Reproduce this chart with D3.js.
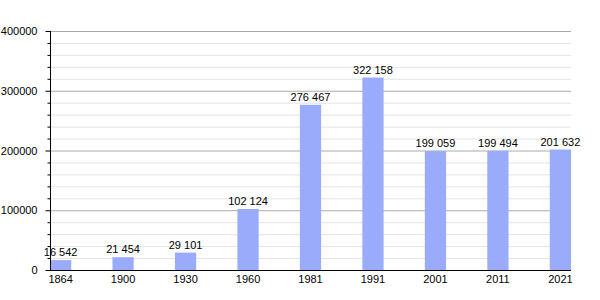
<!DOCTYPE html>
<html>
<head>
<meta charset="utf-8">
<script src="https://cdn.jsdelivr.net/npm/d3@7"></script>
<style>
  body { margin: 0; background: #fff; }
  svg { font-family: "Liberation Sans", Arial, sans-serif; }
</style>
</head>
<body>
<div id="chart"></div>
<script>
const years = ["1864", "1900", "1930", "1960", "1981", "1991", "2001", "2011", "2021"];
const population = [16542, 21454, 29101, 102124, 276467, 322158, 199059, 199494, 201632];
const yMajorTicks = [0, 100000, 200000, 300000, 400000];

(function() {
const width = 600, height = 300;
const plotLeft = 50, plotRight = 571, plotTop = 31, plotBottom = 270;

const svg = d3.select("#chart").append("svg")
    .attr("width", width)
    .attr("height", height);

const x = d3.scaleBand()
    .domain(years)
    .range([plotLeft, plotRight])
    .paddingInner(0.66)
    .paddingOuter(0);

const y = d3.scaleLinear()
    .domain([0, 400000])
    .range([plotBottom, plotTop]);

const minorTicks = d3.range(0, 400001, 20000);
const fmt = v => d3.format(",")(v).replace(/,/g, " ");

// grid lines
svg.append("g")
    .selectAll("line")
    .data(minorTicks.filter(d => d % 100000 !== 0))
    .join("line")
    .attr("x1", plotLeft).attr("x2", plotRight)
    .attr("y1", d => y(d) + 0.5).attr("y2", d => y(d) + 0.5)
    .attr("stroke", "#e4e4e4");

svg.append("g")
    .selectAll("line")
    .data(yMajorTicks.filter(d => d > 0))
    .join("line")
    .attr("x1", plotLeft).attr("x2", plotRight)
    .attr("y1", d => y(d) + 0.5).attr("y2", d => y(d) + 0.5)
    .attr("stroke", "#aaaaaa");

// bars
svg.append("g")
    .selectAll("rect")
    .data(population)
    .join("rect")
    .attr("x", (d, i) => x(years[i]))
    .attr("width", x.bandwidth())
    .attr("y", d => y(d))
    .attr("height", d => y(0) - y(d))
    .attr("fill", "#9aabfb");

// value labels
svg.append("g")
    .selectAll("text")
    .data(population)
    .join("text")
    .attr("x", (d, i) => x(years[i]) + x.bandwidth() / 2)
    .attr("y", d => y(d) - 4)
    .attr("text-anchor", "middle")
    .attr("font-size", 11)
    .text(d => fmt(d));

// y axis
const yAxis = svg.append("g")
    .attr("transform", `translate(${plotLeft + 0.5},0)`)
    .call(d3.axisLeft(y).tickValues(yMajorTicks).tickSize(5).tickPadding(8).tickFormat(d3.format("d")));
yAxis.selectAll("text").attr("font-size", 11).attr("fill", "#000").attr("font-family", "Liberation Sans, Arial, sans-serif");
yAxis.select(".domain").remove();

svg.append("g")
    .attr("transform", `translate(${plotLeft + 0.5},0)`)
    .call(d3.axisLeft(y).tickValues(minorTicks.filter(d => d % 100000 !== 0)).tickSize(3).tickFormat(""))
    .select(".domain").remove();

svg.append("line")
    .attr("x1", plotLeft + 0.5).attr("x2", plotLeft + 0.5)
    .attr("y1", plotTop).attr("y2", plotBottom)
    .attr("stroke", "#000");

// x axis
const xAxis = svg.append("g")
    .attr("transform", `translate(0,${plotBottom + 0.5})`)
    .call(d3.axisBottom(x).tickSize(0).tickPadding(5));
xAxis.select(".domain").attr("d", `M${plotLeft},0H${plotRight}`).attr("stroke", "#000");
xAxis.selectAll("text").attr("font-size", 11).attr("fill", "#000").attr("font-family", "Liberation Sans, Arial, sans-serif");
})();
</script>
</body>
</html>
